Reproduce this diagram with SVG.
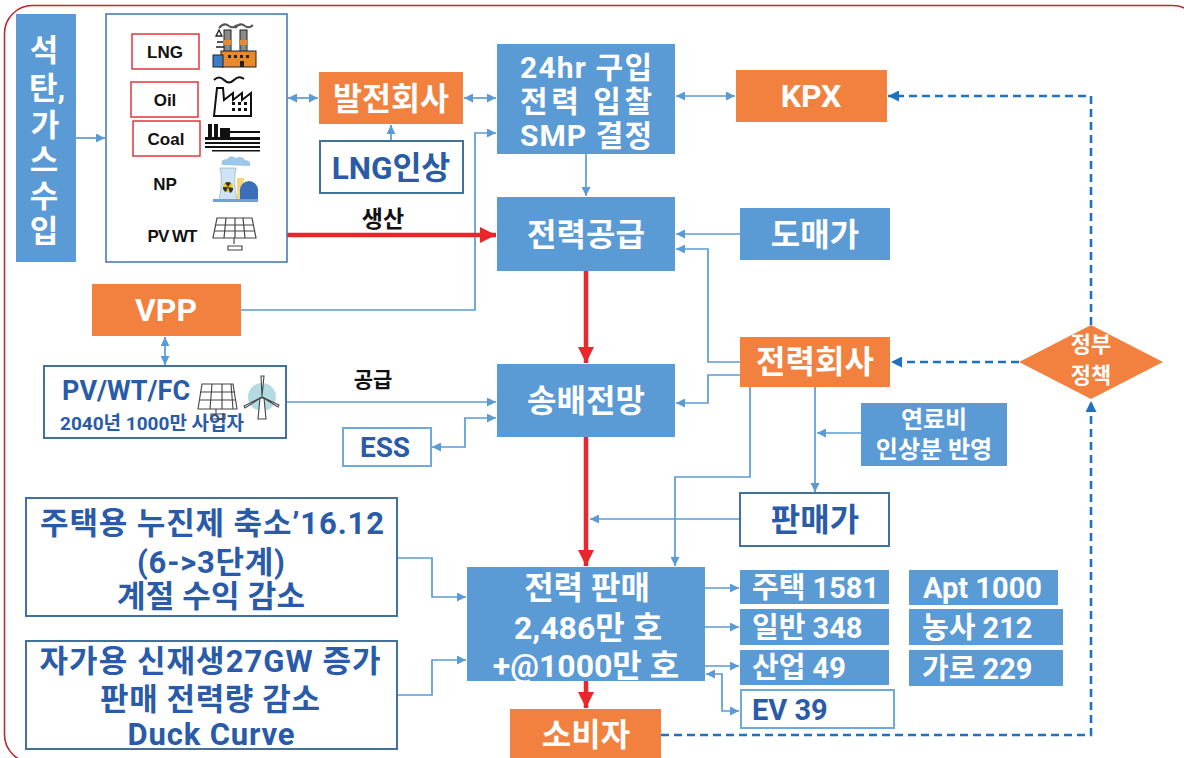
<svg xmlns="http://www.w3.org/2000/svg" width="1184" height="758" viewBox="0 0 1184 758">
  <defs>
    <style>
      .blue { fill: #5B9BD5; }
      .orange { fill: #F2803E; }
      .wbox { fill: #ffffff; stroke: #41719C; stroke-width: 2; }
      .lbox { fill: #ffffff; stroke: #6FA8DC; stroke-width: 2; }
      .tag { fill: #ffffff; stroke: #E0282F; stroke-width: 1.4; }
      .t { font-family: Roboto, "Noto Sans CJK KR", sans-serif; font-weight: 700; }
      .tw { fill: #ffffff; }
      .td { fill: #2A5BA8; }
      .tb { fill: #111111; }
      .sm { font-family: "Liberation Sans", Arial, sans-serif; font-weight: 700; fill: #111111; font-size: 17px; }
      .con { fill: none; stroke: #5B9BD5; stroke-width: 1.7; }
      .red { fill: none; stroke: #E8262B; stroke-width: 4.5; }
      .dash { fill: none; stroke: #1F72C0; stroke-width: 2.6; stroke-dasharray: 8 5; }
    </style>
    <marker id="ab" viewBox="0 0 10 10" refX="10" refY="5" markerWidth="10" markerHeight="9" markerUnits="userSpaceOnUse" orient="auto-start-reverse">
      <path d="M0,0 L10,5 L0,10 z" fill="#5B9BD5"/>
    </marker>
    <marker id="ar" viewBox="0 0 10 10" refX="10" refY="5" markerWidth="16" markerHeight="16" markerUnits="userSpaceOnUse" orient="auto">
      <path d="M0,0 L10,5 L0,10 z" fill="#E8262B"/>
    </marker>
    <marker id="ad" viewBox="0 0 10 10" refX="10" refY="5" markerWidth="12" markerHeight="11" markerUnits="userSpaceOnUse" orient="auto">
      <path d="M0,0 L10,5 L0,10 z" fill="#1F72C0"/>
    </marker>
  </defs>

  <rect width="1184" height="758" fill="#ffffff"/>
  <!-- frame -->
  <rect x="4.5" y="5.5" width="1196" height="757" rx="28" fill="none" stroke="#C0282F" stroke-width="1.6"/>

  <!-- connectors -->
  <g id="connectors">
    <line class="con" x1="76" y1="138" x2="105" y2="138" marker-end="url(#ab)"/>
    <line class="con" x1="288" y1="98" x2="318" y2="98" marker-start="url(#ab)" marker-end="url(#ab)"/>
    <line class="con" x1="464" y1="98" x2="496" y2="98" marker-start="url(#ab)" marker-end="url(#ab)"/>
    <line class="con" x1="391" y1="141" x2="391" y2="125" marker-end="url(#ab)"/>
    <line class="con" x1="676" y1="96" x2="735" y2="96" marker-start="url(#ab)" marker-end="url(#ab)"/>
    <line class="con" x1="586" y1="154" x2="586" y2="196" marker-end="url(#ab)"/>
    <polyline class="con" points="241,310 475,310 475,133 496,133" marker-end="url(#ab)"/>
    <line class="con" x1="740" y1="234" x2="676" y2="234" marker-end="url(#ab)"/>
    <polyline class="con" points="740,362 708,362 708,249 676,249" marker-end="url(#ab)"/>
    <polyline class="con" points="740,375 708,375 708,403 676,403" marker-end="url(#ab)"/>
    <line class="con" x1="165" y1="337" x2="165" y2="365" marker-start="url(#ab)" marker-end="url(#ab)"/>
    <line class="con" x1="287" y1="402" x2="496" y2="402" marker-end="url(#ab)"/>
    <polyline class="con" points="432,447 465,447 465,418 496,418" marker-start="url(#ab)" marker-end="url(#ab)"/>
    <line class="con" x1="815" y1="386" x2="815" y2="492" marker-end="url(#ab)"/>
    <line class="con" x1="861" y1="433" x2="817" y2="433" marker-end="url(#ab)"/>
    <polyline class="con" points="750,386 750,477 675,477 675,566" marker-end="url(#ab)"/>
    <line class="con" x1="740" y1="519" x2="590" y2="519" marker-end="url(#ab)"/>
    <polyline class="con" points="397,558 432,558 432,597 466,597" marker-end="url(#ab)"/>
    <polyline class="con" points="397,695 432,695 432,660 466,660" marker-end="url(#ab)"/>
    <line class="con" x1="705" y1="588" x2="739" y2="588" marker-end="url(#ab)"/>
    <line class="con" x1="705" y1="627" x2="739" y2="627" marker-end="url(#ab)"/>
    <line class="con" x1="705" y1="666" x2="739" y2="666" marker-end="url(#ab)"/>
    <polyline class="con" points="706,674 722,674 722,711 739,711" marker-start="url(#ab)" marker-end="url(#ab)"/>

    <line class="red" x1="287" y1="235" x2="496" y2="235" marker-end="url(#ar)"/>
    <line class="red" x1="586" y1="271" x2="586" y2="363" marker-end="url(#ar)"/>
    <line class="red" x1="586" y1="437" x2="586" y2="566" marker-end="url(#ar)"/>
    <line class="red" x1="586" y1="681" x2="586" y2="708" marker-end="url(#ar)"/>

    <polyline class="dash" points="661,735 1091,735 1091,401" marker-end="url(#ad)"/>
    <line class="dash" x1="1019" y1="362" x2="891" y2="362" marker-end="url(#ad)"/>
    <polyline class="dash" points="1091,325 1091,96 888,96" marker-end="url(#ad)"/>

    <text class="t tb" x="383" y="227" font-size="23" text-anchor="middle">생산</text>
    <text class="t tb" x="373" y="387" font-size="21" text-anchor="middle">공급</text>
  </g>

  <!-- fuel imports -->
  <g id="imports">
    <rect class="blue" x="16" y="14" width="60" height="248"/>
    <g class="t tw" font-size="31" text-anchor="middle">
      <text x="44" y="61">석</text>
      <text x="29" y="99" text-anchor="start">탄,</text>
      <text x="45" y="136">가</text>
      <text x="44" y="171">스</text>
      <text x="44" y="207">수</text>
      <text x="44" y="242">입</text>
    </g>
  </g>

  <!-- generation sources -->
  <g id="generators">
    <rect x="106" y="14" width="181" height="248" fill="#ffffff" stroke="#4A7BB5" stroke-width="1.6"/>
    <rect class="tag" x="132" y="34" width="67" height="35"/>
    <text class="sm" x="165" y="58" text-anchor="middle">LNG</text>
    <rect class="tag" x="131" y="82" width="67" height="35"/>
    <text class="sm" x="165" y="106" text-anchor="middle">Oil</text>
    <rect class="tag" x="133" y="121" width="67" height="35"/>
    <text class="sm" x="166" y="145" text-anchor="middle">Coal</text>
    <text class="sm" x="165" y="190" text-anchor="middle">NP</text>
    <text class="sm" x="172" y="242" text-anchor="middle" letter-spacing="-1">PV WT</text>

    <!-- gas plant icon -->
    <g>
      <rect x="224" y="30" width="7" height="22" fill="#8a8a8a" stroke="#222" stroke-width="1"/>
      <rect x="240" y="30" width="7" height="22" fill="#8a8a8a" stroke="#222" stroke-width="1"/>
      <rect x="224" y="40" width="7" height="5" fill="#E8892E"/>
      <rect x="240" y="40" width="7" height="5" fill="#E8892E"/>
      <path d="M219,28 q5,-6 10,-2 q4,3 8,-1 M235,28 q5,-6 10,-2 q4,3 8,-1" fill="none" stroke="#555" stroke-width="2"/>
      <path d="M216,36 l3,-6 l3,6 z M217,42 h6 M216,47 h8" fill="none" stroke="#222" stroke-width="1.3"/>
      <rect x="221" y="51" width="35" height="16" fill="#E8892E" stroke="#222" stroke-width="1"/>
      <rect x="213" y="55" width="10" height="12" fill="#3D7CC9" stroke="#222" stroke-width="1"/>
      <g fill="#222"><rect x="228" y="55" width="3" height="3"/><rect x="234" y="55" width="3" height="3"/><rect x="240" y="55" width="3" height="3"/><rect x="246" y="55" width="3" height="3"/><rect x="240" y="61" width="4" height="6"/></g>
    </g>
    <!-- oil plant icon -->
    <g fill="none" stroke="#111" stroke-width="2">
      <path d="M214,80 q5,-5 10,0 t10,0 t10,-1"/>
      <path d="M214,116 l3,-28 h6 l1,12 l9,-7 v7 l9,-7 v7 l9,-7 v23 z"/>
      <g fill="#111" stroke="none"><rect x="232" y="102" width="3" height="3"/><rect x="238" y="102" width="3" height="3"/><rect x="244" y="102" width="3" height="3"/><rect x="232" y="108" width="3" height="3"/><rect x="238" y="108" width="3" height="3"/><rect x="244" y="108" width="3" height="3"/></g>
    </g>
    <!-- coal plant icon -->
    <g fill="#111">
      <rect x="208" y="124" width="4" height="14"/>
      <rect x="214" y="124" width="4" height="14"/>
      <rect x="220" y="128" width="10" height="10"/>
      <rect x="205" y="137" width="55" height="3"/>
      <rect x="230" y="131" width="30" height="2"/>
      <rect x="205" y="142" width="55" height="2"/>
      <rect x="205" y="146" width="55" height="2"/>
      <rect x="212" y="150" width="48" height="1.5"/>
    </g>
    <!-- nuclear plant icon -->
    <g>
      <path d="M222,165 q-2,-6 5,-6 q3,-5 9,-1 q6,-3 9,2 q6,0 5,6 z" fill="#9CC7EA"/>
      <path d="M219,200 q4,-18 1,-32 h16 q-3,14 1,32 z" fill="#CFE3F4" stroke="#8aa" stroke-width="0.6"/>
      <circle cx="228" cy="187" r="5" fill="#F3C623"/>
      <path d="M228,187 l-3,-4 a5,5 0 0 1 6,0 z M228,187 l5,1 a5,5 0 0 1 -3,5 z M228,187 l-2,5 a5,5 0 0 1 -3,-5 z" fill="#333"/>
      <rect x="237" y="178" width="7" height="22" fill="#F3D675"/>
      <path d="M240,200 v-10 a9,9 0 0 1 18,0 v10 z" fill="#3D6FB8"/>
      <rect x="213" y="199" width="45" height="3" fill="#6BA3D6"/>
    </g>
    <!-- solar panel icon -->
    <g fill="none" stroke="#444" stroke-width="1.2">
      <path d="M217,218 h35 l4,20 h-43 z"/>
      <path d="M216,225 h37 M214.5,231 h40 M226,218 l-2,20 M235,218 v20 M243,218 l2,20"/>
      <path d="M234,238 v6 M228,246 h14 v4 h-14 z"/>
    </g>
  </g>

  <g id="genco">
    <rect class="orange" x="319" y="72" width="144" height="52"/>
    <text class="t tw" x="391" y="110" font-size="31.5" text-anchor="middle">발전회사</text>
  </g>

  <g id="lng-rise">
    <rect class="wbox" x="320" y="141" width="143" height="52"/>
    <text class="t td" x="391" y="179" font-size="31.5" text-anchor="middle">LNG인상</text>
  </g>

  <g id="bidding">
    <rect class="blue" x="497" y="44" width="178" height="110"/>
    <g class="t tw" font-size="30" text-anchor="middle" lengthAdjust="spacingAndGlyphs">
      <text x="586" y="78" textLength="132">24hr 구입</text>
      <text x="586" y="112" textLength="132">전력 입찰</text>
      <text x="586" y="146" textLength="132">SMP 결정</text>
    </g>
  </g>

  <g id="kpx">
    <rect class="orange" x="736" y="70" width="151" height="52"/>
    <text class="t tw" x="811" y="107" font-size="32" text-anchor="middle">KPX</text>
  </g>

  <g id="supply">
    <rect class="blue" x="497" y="197" width="178" height="74"/>
    <text class="t tw" x="586" y="246" font-size="32" text-anchor="middle">전력공급</text>
  </g>

  <g id="wholesale">
    <rect class="blue" x="740" y="208" width="150" height="52"/>
    <text class="t tw" x="815" y="246" font-size="32" text-anchor="middle">도매가</text>
  </g>

  <g id="vpp">
    <rect class="orange" x="92" y="284" width="149" height="52"/>
    <text class="t tw" x="166" y="321" font-size="32" text-anchor="middle">VPP</text>
  </g>

  <g id="prosumers">
    <rect class="wbox" x="44" y="366" width="242" height="72"/>
    <text class="t td" x="62" y="400" font-size="27">PV/WT/FC</text>
    <text class="t td" x="60" y="430" font-size="19">2040년 1000만 사업자</text>
    <g fill="none" stroke="#444" stroke-width="1.1">
      <path d="M202,384 h31 l4,25 h-39 z"/>
      <path d="M200,392 h35 M199,400 h37 M212,384 l-2,25 M222,384 v25 M231,384 l2,25"/>
      <path d="M216,409 v5 M211,414 h14 v5 h-14 z"/>
    </g>
    <circle cx="262" cy="397" r="14" fill="#9FD3D9" opacity="0.8"/>
    <g fill="#ffffff" stroke="#444" stroke-width="1.1">
      <path d="M260,398 l-2,21 h8 l-2,-21 z"/>
      <path d="M262,396 l-1,-20 l3,0 z"/>
      <path d="M262,397 l-18,9 l1,2 z"/>
      <path d="M262,397 l17,8 l-1,2 z"/>
    </g>
  </g>

  <g id="transmission">
    <rect class="blue" x="497" y="364" width="178" height="73"/>
    <text class="t tw" x="586" y="412" font-size="32" text-anchor="middle">송배전망</text>
  </g>

  <g id="ess">
    <rect class="lbox" x="343" y="428" width="88" height="38"/>
    <text class="t td" x="385" y="457" font-size="28" text-anchor="middle">ESS</text>
  </g>

  <g id="utility">
    <rect class="orange" x="740" y="337" width="150" height="50"/>
    <text class="t tw" x="815" y="373" font-size="32" text-anchor="middle">전력회사</text>
  </g>

  <g id="policy">
    <path class="orange" d="M1091,325 L1163,362 L1091,399 L1019,362 z"/>
    <text class="t tw" x="1091" y="352" font-size="22" text-anchor="middle">정부</text>
    <text class="t tw" x="1091" y="383" font-size="22" text-anchor="middle">정책</text>
  </g>

  <g id="fuel-cost">
    <rect class="blue" x="861" y="403" width="146" height="63"/>
    <text class="t tw" x="934" y="428" font-size="24" text-anchor="middle">연료비</text>
    <text class="t tw" x="934" y="458" font-size="24" text-anchor="middle">인상분 반영</text>
  </g>

  <g id="retail-price">
    <rect class="wbox" x="740" y="493" width="149" height="53"/>
    <text class="t td" x="815" y="531" font-size="32" text-anchor="middle">판매가</text>
  </g>

  <g id="tariff-note">
    <rect class="wbox" x="26" y="498" width="371" height="118"/>
    <g class="t td" font-size="31" text-anchor="middle" lengthAdjust="spacingAndGlyphs">
      <text x="212" y="534" textLength="344">주택용 누진제 축소’16.12</text>
      <text x="211" y="573" textLength="148">(6-&gt;3단계)</text>
      <text x="211" y="607" textLength="188">계절 수익 감소</text>
    </g>
  </g>

  <g id="self-gen-note">
    <rect class="wbox" x="26" y="641" width="371" height="108"/>
    <g class="t td" font-size="31" text-anchor="middle" lengthAdjust="spacingAndGlyphs">
      <text x="210" y="672" textLength="341">자가용 신재생27GW 증가</text>
      <text x="210" y="710" textLength="220">판매 전력량 감소</text>
      <text x="211" y="745" textLength="167">Duck Curve</text>
    </g>
  </g>

  <g id="retail">
    <rect class="blue" x="467" y="567" width="238" height="114"/>
    <g class="t tw" font-size="32" text-anchor="middle">
      <text x="587" y="599">전력 판매</text>
      <text x="588" y="639">2,486만 호</text>
      <text x="586" y="677">+@1000만 호</text>
    </g>
  </g>

  <g id="residential">
    <rect class="blue" x="740" y="570" width="149" height="34"/>
    <text class="t tw" x="752" y="598" font-size="29">주택 1581</text>
  </g>
  <g id="general">
    <rect class="blue" x="740" y="609" width="149" height="36"/>
    <text class="t tw" x="752" y="638" font-size="29">일반 348</text>
  </g>
  <g id="industrial">
    <rect class="blue" x="740" y="650" width="149" height="35"/>
    <text class="t tw" x="752" y="678" font-size="29">산업 49</text>
  </g>
  <g id="ev">
    <rect class="lbox" x="741" y="690" width="153" height="38"/>
    <text class="t td" x="752" y="720" font-size="29">EV 39</text>
  </g>
  <g id="apartment">
    <rect class="blue" x="909" y="570" width="149" height="35"/>
    <text class="t tw" x="923" y="598" font-size="29">Apt 1000</text>
  </g>
  <g id="farm">
    <rect class="blue" x="909" y="609" width="154" height="36"/>
    <text class="t tw" x="922" y="638" font-size="29">농사 212</text>
  </g>
  <g id="street">
    <rect class="blue" x="909" y="650" width="154" height="36"/>
    <text class="t tw" x="922" y="679" font-size="29">가로 229</text>
  </g>

  <g id="consumer">
    <rect class="orange" x="510" y="709" width="151" height="49"/>
    <text class="t tw" x="586" y="746" font-size="32" text-anchor="middle">소비자</text>
  </g>
</svg>
